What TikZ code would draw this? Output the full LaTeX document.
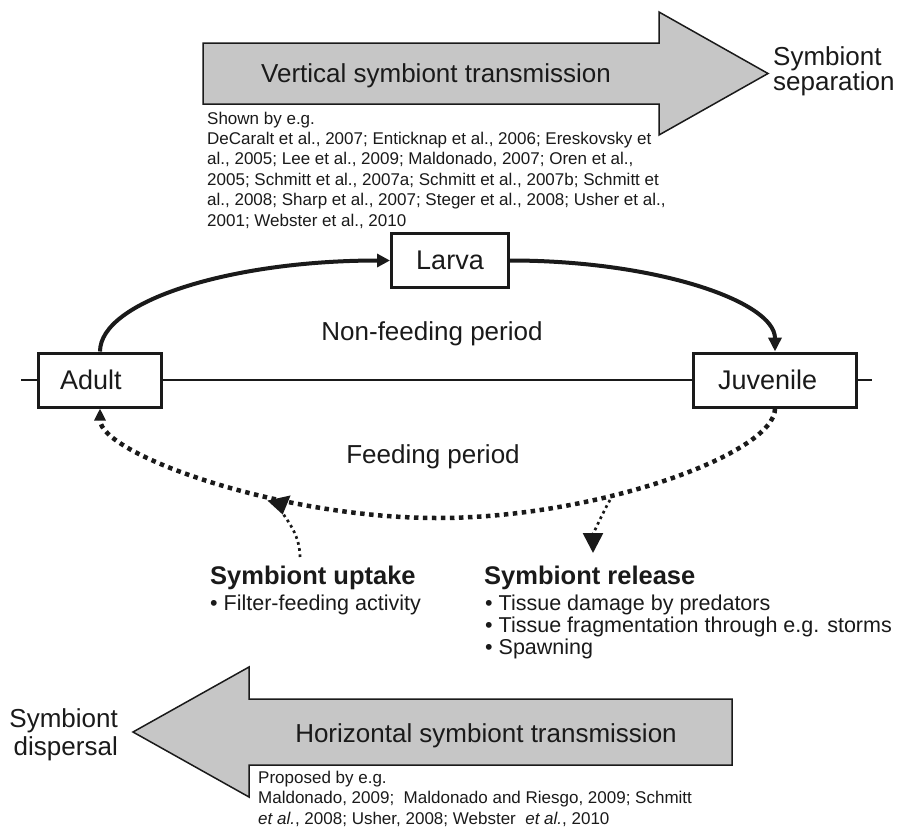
\documentclass[tikz,border=0pt]{standalone}
\usepackage{fontspec}
\setmainfont{Liberation Sans}
\usetikzlibrary{arrows.meta}
\definecolor{arrowgray}{RGB}{198,198,198}
\definecolor{ink}{RGB}{26,26,26}
\begin{document}
\begin{tikzpicture}[x=1pt,y=1pt,
  bigarrow/.style={draw=ink, line width=1.5pt, fill=arrowgray, line join=miter},
  stagebox/.style={draw=ink, line width=3pt, inner ysep=0pt, font=\fontsize{27}{30}\selectfont, minimum height=54pt, text=ink},
  bigtext/.style={font=\fontsize{26}{28}\selectfont, inner sep=0pt, text=ink},
  cite/.style={font=\fontsize{17}{20.4}\selectfont, inner sep=0pt, align=left, text=ink},
  titletext/.style={font=\bfseries\fontsize{25.5}{28}\selectfont, inner sep=0pt, text=ink},
  bullettext/.style={font=\fontsize{21.5}{22}\selectfont, inner sep=0pt, align=left, text=ink},
  lifearc/.style={line width=4pt, draw=ink},
  hline/.style={line width=1.6pt, draw=ink},
  bigdots/.style={line width=4.5pt, dash pattern=on 4.5pt off 4.5pt, draw=ink},
  smalldots/.style={line width=2.7pt, dash pattern=on 2.7pt off 3.5pt, draw=ink},
]
\useasboundingbox (0,0) rectangle (907,-827);
\fill[white] (0,0) rectangle (907,-827);

% big transmission arrows
\draw[bigarrow] (203,-43) -- (659,-43) -- (659,-12) -- (768,-73.5) -- (659,-135) -- (659,-104) -- (203,-104) -- cycle;
\draw[bigarrow] (732,-699) -- (249,-699) -- (249,-667) -- (133,-732) -- (249,-797) -- (249,-765) -- (732,-765) -- cycle;

% (multi-line nodes: the base anchor is the baseline of the last line)
\node[bigtext, anchor=base] (vst) at (436,-82) {Vertical symbiont transmission};
\node[bigtext, anchor=base west, align=left, font=\fontsize{26}{25.5}\selectfont] (sep) at (773,-90.5) {Symbiont\\separation};
\node[cite, anchor=base west] (shown) at (207,-226) {Shown by e.g.\\
DeCaralt et al., 2007; Enticknap et al., 2006; Ereskovsky et\\
al., 2005; Lee et al., 2009; Maldonado, 2007; Oren et al.,\\
2005; Schmitt et al., 2007a; Schmitt et al., 2007b; Schmitt et\\
al., 2008; Sharp et al., 2007; Steger et al., 2008; Usher et al.,\\
2001; Webster et al., 2010};

\node[bigtext, anchor=base] (hst) at (486,-742) {Horizontal symbiont transmission};
\node[bigtext, anchor=base east, align=right, font=\fontsize{26}{28.5}\selectfont] (disp) at (118,-755.5) {Symbiont\\dispersal};
\node[cite, anchor=base west] (proposed) at (258,-824) {Proposed by e.g.\\
Maldonado, 2009;\ \ Maldonado and Riesgo, 2009; Schmitt\\
\textit{et al.}, 2008; Usher, 2008; Webster\ \ \textit{et al.}, 2010};

% life-cycle stages
\node[stagebox, text width=80pt, inner xsep=21.5pt, align=left] (adult) at (100,-380) {Adult};
\node[stagebox, minimum width=117pt, align=center] (larva) at (450,-260.5) {Larva};
\node[stagebox, text width=114pt, inner xsep=24.5pt, align=left] (juvenile) at (775,-380) {Juvenile};

\draw[hline] (adult.west) -- ++(-16,0);
\draw[hline] (adult.east) -- (juvenile.west);
\draw[hline] (juvenile.east) -- ++(14,0);

\node[bigtext, anchor=base] (nonfeed) at (432,-340) {Non-feeding period};
\node[bigtext, anchor=base] (feed) at (433,-463) {Feeding period};

\draw[lifearc, -{Triangle[length=13pt,width=13pt]}] (adult.north) .. controls +(0,50) and +(-160,0) .. (larva.west);
\draw[lifearc, -{Triangle[length=14pt,width=13pt]}] (larva.east) .. controls +(146,0) and +(0,50) .. (juvenile.north);

\coordinate (fb) at (437.5,-518);
\draw[bigdots, -{Triangle[length=12pt,width=11pt]}] (juvenile.south) .. controls +(0,-45) and +(160,0) .. (fb) .. controls +(-160,0) and +(0,-45) .. (adult.south);

% uptake and release
\node[titletext, anchor=base west] (uptitle) at (210,-584) {Symbiont uptake};
\node[bullettext, anchor=base west] (uplist) at (210,-610) {• Filter-feeding activity};
\node[titletext, anchor=base west] (reltitle) at (484,-584) {Symbiont release};
\node[bullettext, anchor=base west] (rellist) at (485,-654) {• Tissue damage by predators\\• Tissue fragmentation through e.g. storms\\• Spawning};

\coordinate (upstart) at (300,-557);
\coordinate (upend) at (279,-498);
\coordinate (relstart) at (610,-500);
\coordinate (relend) at (593,-553);
\draw[smalldots, -{Triangle[reversed,length=17pt,width=23pt]}] (upstart) .. controls +(0,25) and +(4,-18) .. (upend);
\draw[smalldots, -{Triangle[length=20pt,width=20pt]}] (relstart) .. controls +(-8,-14) and +(0,18) .. (relend);
\end{tikzpicture}
\end{document}
